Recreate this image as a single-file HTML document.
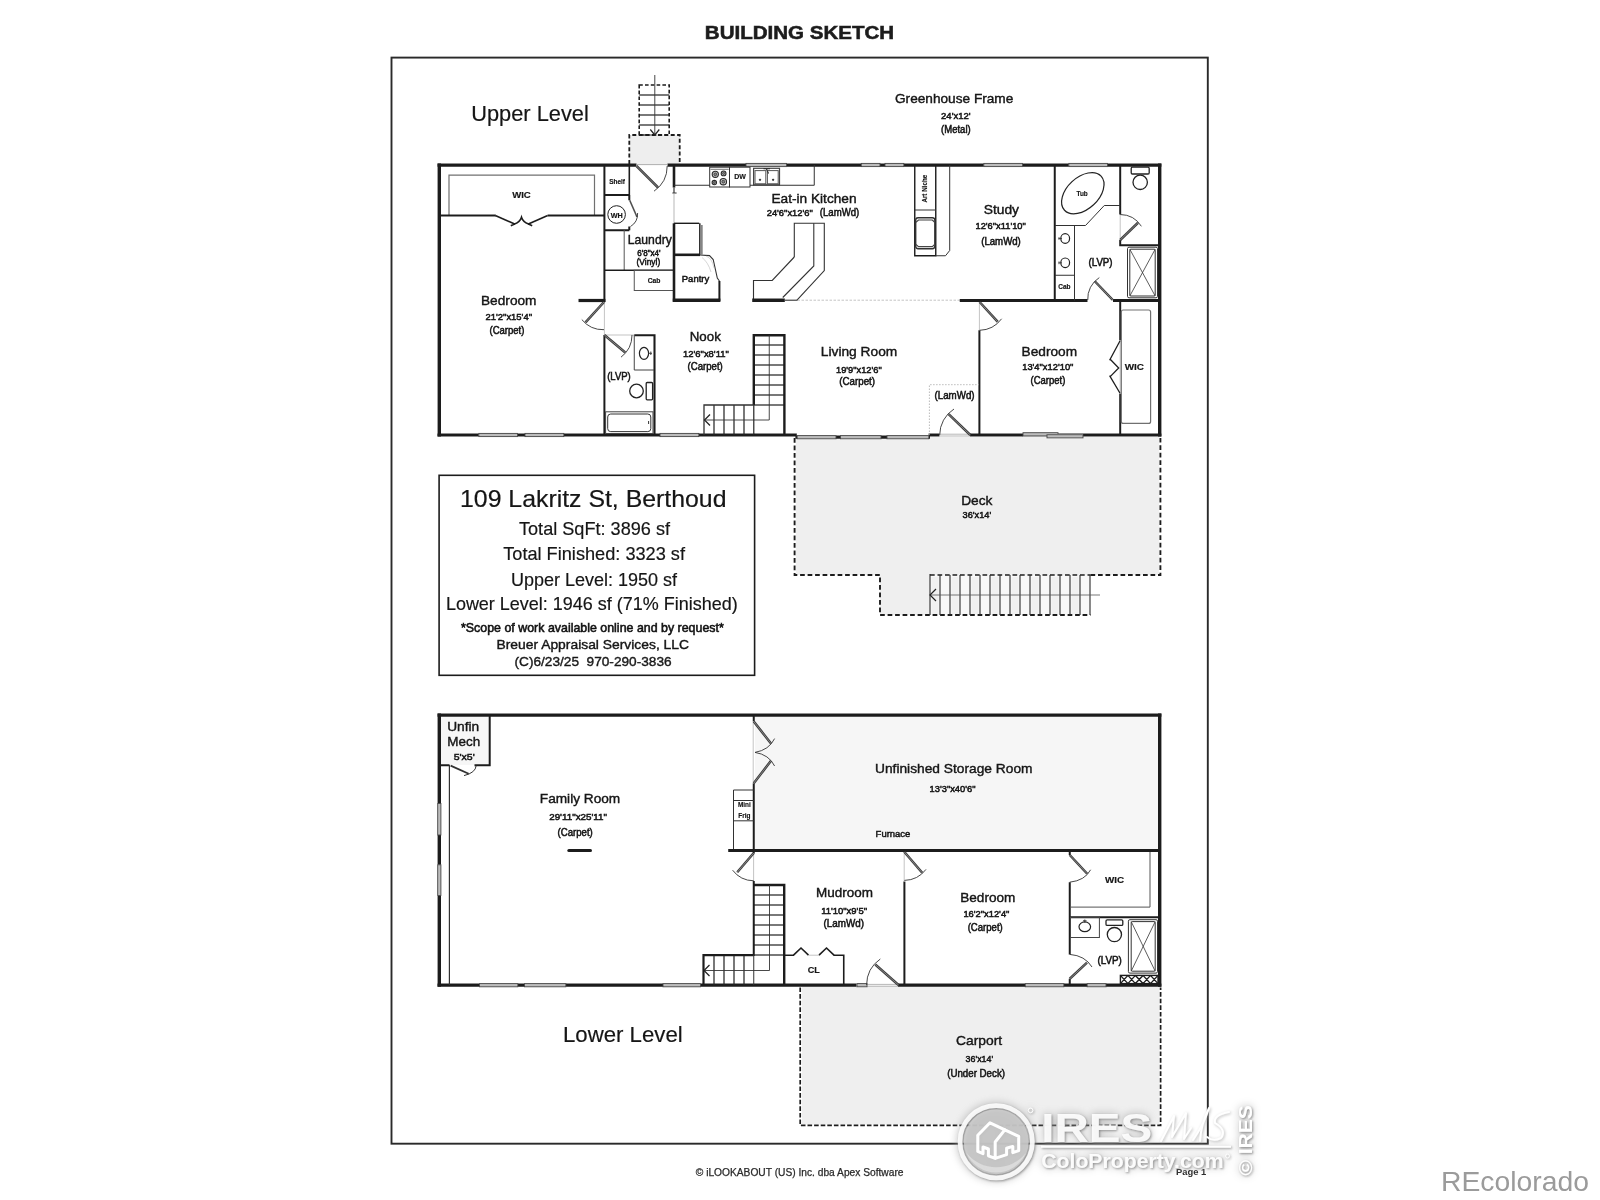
<!DOCTYPE html>
<html><head><meta charset="utf-8"><title>Building Sketch</title>
<style>
html,body{margin:0;padding:0;background:#fff;}
body{width:1600px;height:1200px;overflow:hidden;font-family:"Liberation Sans",sans-serif;}
svg{display:block;}
svg text{font-family:"Liberation Sans",sans-serif;}
</style></head><body>
<svg width="1600" height="1200" viewBox="0 0 1600 1200">
<defs>
<filter id="soft" x="-2%" y="-2%" width="104%" height="104%"><feGaussianBlur stdDeviation="0.45"/></filter>
<filter id="wmsh" x="-10%" y="-25%" width="120%" height="150%">
  <feGaussianBlur in="SourceAlpha" stdDeviation="4.5" result="b1"/>
  <feComponentTransfer in="b1" result="h1"><feFuncA type="linear" slope="0.95"/></feComponentTransfer>
  <feFlood flood-color="#a0a0a0" result="f1"/><feComposite in="f1" in2="h1" operator="in" result="halo"/>
  <feGaussianBlur in="SourceAlpha" stdDeviation="1.1" result="b2"/>
  <feOffset in="b2" dx="0.7" dy="0.9" result="o2"/>
  <feComponentTransfer in="o2" result="h2"><feFuncA type="linear" slope="0.75"/></feComponentTransfer>
  <feFlood flood-color="#6e6e6e" result="f2"/><feComposite in="f2" in2="h2" operator="in" result="sh"/>
  <feMerge><feMergeNode in="halo"/><feMergeNode in="sh"/><feMergeNode in="SourceGraphic"/></feMerge>
</filter>
<filter id="wmsh2" x="-10%" y="-25%" width="120%" height="150%">
  <feGaussianBlur in="SourceAlpha" stdDeviation="1.4" result="b2"/>
  <feOffset in="b2" dx="0.5" dy="0.6" result="o2"/>
  <feComponentTransfer in="o2" result="h2"><feFuncA type="linear" slope="0.7"/></feComponentTransfer>
  <feFlood flood-color="#9a9a9a" result="f2"/><feComposite in="f2" in2="h2" operator="in" result="sh"/>
  <feMerge><feMergeNode in="sh"/><feMergeNode in="SourceGraphic"/></feMerge>
</filter>
</defs>
<rect width="1600" height="1200" fill="#fff"/>
<g filter="url(#soft)">
<rect x="391.5" y="57.6" width="816.3" height="1086.1" rx="0" stroke="#2a2a2a" stroke-width="1.9" fill="none" />
<text x="704.8" y="39" font-size="17.7" font-weight="700" fill="#1c1c1c" stroke="#1c1c1c" stroke-width="0.5" textLength="189.4" lengthAdjust="spacingAndGlyphs" >BUILDING SKETCH</text>
<path d="M796,437 H1159 V575 H930 V615 H880 V575 H796 Z" fill="#efefef" stroke="none"/>
<rect x="930" y="575" width="160.5" height="40" fill="#f8f8f8"/>
<rect x="931.5" y="577" width="7" height="37" fill="#f1f1f1"/>
<rect x="951.5" y="577" width="7" height="37" fill="#f1f1f1"/>
<rect x="971.5" y="577" width="7" height="37" fill="#f1f1f1"/>
<rect x="991.5" y="577" width="7" height="37" fill="#f1f1f1"/>
<rect x="1011.5" y="577" width="7" height="37" fill="#f1f1f1"/>
<rect x="1031.5" y="577" width="7" height="37" fill="#f1f1f1"/>
<rect x="1051.5" y="577" width="7" height="37" fill="#f1f1f1"/>
<rect x="1071.5" y="577" width="7" height="37" fill="#f1f1f1"/>
<rect x="629.3" y="135" width="50.4" height="29" fill="#eeeeee"/>
<path d="M629.3,164 V135 H679.7 V164" stroke="#1e1e1e" stroke-width="1.8" fill="none" stroke-dasharray="4 2.4"/>
<rect x="639.2" y="85" width="30.0" height="50" rx="0" stroke="#1e1e1e" stroke-width="1.6" fill="none" stroke-dasharray="3.6 2.2"/>
<line x1="639.2" y1="95" x2="669.2" y2="95" stroke="#222" stroke-width="1.2" />
<line x1="639.2" y1="105" x2="669.2" y2="105" stroke="#222" stroke-width="1.2" />
<line x1="639.2" y1="115" x2="669.2" y2="115" stroke="#222" stroke-width="1.2" />
<line x1="639.2" y1="125" x2="669.2" y2="125" stroke="#222" stroke-width="1.2" />
<line x1="654.8" y1="75" x2="654.8" y2="135" stroke="#333" stroke-width="0.9" />
<path d="M650.3,129.5 L654.8,135 L659.3,129.5" stroke="#222" stroke-width="1.2" fill="none" />
<path d="M437.5,165.1 H636.5 M667.5,165.1 H1161.4" stroke="#1e1e1e" stroke-width="3.1" fill="none" />
<path d="M1159.7,163.6 V436.6" stroke="#1e1e1e" stroke-width="3.4" fill="none" />
<path d="M439.3,163.6 V436.6" stroke="#1e1e1e" stroke-width="3.4" fill="none" />
<path d="M437.5,435 H796.8 M928.6,435 H939.5 M970,435 H1161.4" stroke="#1e1e1e" stroke-width="3.2" fill="none" />
<path d="M795.4,437.2 H930" stroke="#1e1e1e" stroke-width="3.2" fill="none" />
<line x1="636.5" y1="164.6" x2="667.5" y2="164.6" stroke="#999" stroke-width="0.8" />
<line x1="939.5" y1="434.2" x2="970" y2="434.2" stroke="#999" stroke-width="0.7" />
<line x1="939.5" y1="436" x2="970" y2="436" stroke="#999" stroke-width="0.7" />
<rect x="746" y="162.7" width="40.5" height="4.6" fill="#fff"/>
<rect x="746" y="163.4" width="40.5" height="3.2" fill="#bcbcbc" stroke="#454545" stroke-width="0.9"/>
<rect x="861.3" y="162.7" width="18.7" height="4.6" fill="#fff"/>
<rect x="861.3" y="163.4" width="18.7" height="3.2" fill="#bcbcbc" stroke="#454545" stroke-width="0.9"/>
<rect x="885" y="162.7" width="18.8" height="4.6" fill="#fff"/>
<rect x="885" y="163.4" width="18.8" height="3.2" fill="#bcbcbc" stroke="#454545" stroke-width="0.9"/>
<rect x="983.8" y="162.7" width="38.7" height="4.6" fill="#fff"/>
<rect x="983.8" y="163.4" width="38.7" height="3.2" fill="#bcbcbc" stroke="#454545" stroke-width="0.9"/>
<rect x="1068.8" y="162.7" width="38.7" height="4.6" fill="#fff"/>
<rect x="1068.8" y="163.4" width="38.7" height="3.2" fill="#bcbcbc" stroke="#454545" stroke-width="0.9"/>
<rect x="478.8" y="432.7" width="38.7" height="4.6" fill="#fff"/>
<rect x="478.8" y="433.4" width="38.7" height="3.2" fill="#bcbcbc" stroke="#454545" stroke-width="0.9"/>
<rect x="525" y="432.7" width="38.8" height="4.6" fill="#fff"/>
<rect x="525" y="433.4" width="38.8" height="3.2" fill="#bcbcbc" stroke="#454545" stroke-width="0.9"/>
<rect x="660" y="432.7" width="38.8" height="4.6" fill="#fff"/>
<rect x="660" y="433.4" width="38.8" height="3.2" fill="#bcbcbc" stroke="#454545" stroke-width="0.9"/>
<rect x="797.2" y="434.9" width="38.8" height="4.6" fill="#fff"/>
<rect x="797.2" y="435.59999999999997" width="38.8" height="3.2" fill="#bcbcbc" stroke="#454545" stroke-width="0.9"/>
<rect x="840.5" y="434.9" width="40.5" height="4.6" fill="#fff"/>
<rect x="840.5" y="435.59999999999997" width="40.5" height="3.2" fill="#bcbcbc" stroke="#454545" stroke-width="0.9"/>
<rect x="887" y="434.9" width="41.8" height="4.6" fill="#fff"/>
<rect x="887" y="435.59999999999997" width="41.8" height="3.2" fill="#bcbcbc" stroke="#454545" stroke-width="0.9"/>
<rect x="1023" y="432.0" width="35" height="4.6" fill="#fff"/>
<rect x="1023" y="432.7" width="35" height="3.2" fill="#bcbcbc" stroke="#454545" stroke-width="0.9"/>
<rect x="1047" y="434.0" width="36" height="4.6" fill="#fff"/>
<rect x="1047" y="434.7" width="36" height="3.2" fill="#bcbcbc" stroke="#454545" stroke-width="0.9"/>
<path d="M449,215 V175.2 H594.5 V215" stroke="#707070" stroke-width="1.2" fill="none" />
<path d="M439,215.5 H495.7 M547.75,215.5 H604.4" stroke="#1e1e1e" stroke-width="2" fill="none" />
<path d="M495.3,215.4 L515.2,224.3 M510.8,225.7 L514.6,224 Q520,222 521.5,217.2 Q523,222 528.5,224 L532.2,225.7 M527.8,224.3 L547.7,215.4" stroke="#1e1e1e" stroke-width="1.6" fill="none" />
<path d="M604.4,165 V302" stroke="#1e1e1e" stroke-width="2" fill="none" />
<path d="M604.4,335 V435" stroke="#1e1e1e" stroke-width="2" fill="none" />
<line x1="604.4" y1="302" x2="604.4" y2="335" stroke="#aaa" stroke-width="0.7" />
<line x1="629.3" y1="165" x2="629.3" y2="195" stroke="#1e1e1e" stroke-width="1.6" />
<path d="M604.4,195 H629.3 M604.4,230.2 H629.3" stroke="#1e1e1e" stroke-width="2" fill="none" />
<path d="M629.3,195 V200.3 M629.3,226.5 V230.2" stroke="#1e1e1e" stroke-width="2" fill="none" />
<path d="M629.7,200.3 L637,217" stroke="#505050" stroke-width="1.6" fill="none" />
<path d="M637.6,213 Q638,222 630.5,226.5" stroke="#333" stroke-width="0.9" fill="none" />
<circle cx="616.6" cy="214.5" r="8.8" stroke="#1e1e1e" stroke-width="1" fill="none"/>
<line x1="624.2" y1="230" x2="624.2" y2="270.3" stroke="#555" stroke-width="1" />
<line x1="604.4" y1="270.3" x2="674" y2="270.3" stroke="#1e1e1e" stroke-width="1.6" />
<rect x="634.25" y="270.3" width="39.75" height="20.2" rx="0" stroke="#555" stroke-width="1" fill="none" />
<line x1="578.5" y1="300.5" x2="605.4" y2="300.5" stroke="#1e1e1e" stroke-width="3.2" />
<path d="M604,302 L585.5,322.3" stroke="#3c3c3c" stroke-width="2.5" fill="none" />
<path d="M604,302 L585.5,322.3" stroke="#8c8c8c" stroke-width="0.9" fill="none" />
<path d="M581.8,319.6 A27.7,27.7 0 0 0 604,329.7" stroke="#333" stroke-width="0.9" fill="none" />
<path d="M636.5,166 L658,187.5" stroke="#3c3c3c" stroke-width="2.5" fill="none" />
<path d="M636.5,166 L658,187.5" stroke="#8c8c8c" stroke-width="0.9" fill="none" />
<path d="M667.2,166 A30.5,30.5 0 0 1 654,191.2" stroke="#333" stroke-width="0.9" fill="none" />
<path d="M674,165 V187.5 M674,223.3 V301.8" stroke="#1e1e1e" stroke-width="2.6" fill="none" />
<line x1="674" y1="187.5" x2="674" y2="193" stroke="#333" stroke-width="1.2" />
<path d="M672.4,193 H676.6" stroke="#333" stroke-width="1" fill="none" />
<line x1="674" y1="193" x2="674" y2="223.3" stroke="#999" stroke-width="0.7" />
<line x1="674" y1="223.3" x2="699.2" y2="223.3" stroke="#1e1e1e" stroke-width="1.4" />
<line x1="699.8" y1="223.3" x2="699.8" y2="254.8" stroke="#333" stroke-width="1.6" />
<line x1="701.8" y1="225" x2="701.8" y2="254.5" stroke="#858585" stroke-width="1.8" />
<line x1="674" y1="254.8" x2="700" y2="254.8" stroke="#1e1e1e" stroke-width="2.6" />
<path d="M672.8,300.2 H720.4" stroke="#1e1e1e" stroke-width="3.4" fill="none" />
<path d="M719.4,281 V301" stroke="#1e1e1e" stroke-width="2" fill="none" />
<path d="M700,255 L709.5,255.6 L713.2,259.5 L717.3,278 L719.4,281" stroke="#333" stroke-width="1.1" fill="none" />
<path d="M702,257.5 Q708,262 711,272 M706,256 Q712,258 714,268" stroke="#bbb" stroke-width="0.6" fill="none" />
<path d="M674,185.25 H814.25 V165" stroke="#333" stroke-width="1" fill="none" />
<rect x="709.7" y="167.2" width="19.8" height="19.8" rx="0" stroke="#333" stroke-width="1" fill="#fff" />
<circle cx="715.3" cy="174.3" r="3.1" stroke="#2a2a2a" stroke-width="1.1" fill="#c8c8c8"/>
<circle cx="715.3" cy="174.3" r="1.395" stroke="#333" stroke-width="0.8" fill="#888"/>
<circle cx="723.6" cy="173.4" r="2.4" stroke="#2a2a2a" stroke-width="1.1" fill="#c8c8c8"/>
<circle cx="723.6" cy="173.4" r="1.08" stroke="#333" stroke-width="0.8" fill="#888"/>
<circle cx="714.3" cy="182.6" r="2.2" stroke="#2a2a2a" stroke-width="1.1" fill="#c8c8c8"/>
<circle cx="714.3" cy="182.6" r="0.9900000000000001" stroke="#333" stroke-width="0.8" fill="#888"/>
<circle cx="723.3" cy="181.7" r="3.2" stroke="#2a2a2a" stroke-width="1.1" fill="#c8c8c8"/>
<circle cx="723.3" cy="181.7" r="1.4400000000000002" stroke="#333" stroke-width="0.8" fill="#888"/>
<line x1="710.5" y1="169.3" x2="728.7" y2="169.3" stroke="#555" stroke-width="0.8" />
<rect x="729.5" y="167.2" width="20.5" height="19.8" rx="0" stroke="#333" stroke-width="1" fill="#fff" />
<rect x="753.6" y="168.3" width="25.9" height="16.9" rx="0" stroke="#444" stroke-width="1.2" fill="#fff" />
<rect x="755" y="170.6" width="10.8" height="13.2" rx="0" stroke="#555" stroke-width="1" fill="none" />
<rect x="767.4" y="170.6" width="10.8" height="13.2" rx="0" stroke="#555" stroke-width="1" fill="none" />
<line x1="754" y1="184.6" x2="779" y2="184.6" stroke="#555" stroke-width="1.4" />
<circle cx="760" cy="179.8" r="0.7" stroke="#222" stroke-width="0.9" fill="#222"/>
<circle cx="773.1" cy="179.8" r="0.7" stroke="#222" stroke-width="0.9" fill="#222"/>
<path d="M763.5,168.6 H770 M766.2,168.6 L768.6,173.5" stroke="#333" stroke-width="1.1" fill="none" />
<path d="M794.3,257 V223.3 H824.3 V270.5 L797,300.2" stroke="#333" stroke-width="1.1" fill="none" />
<path d="M794.3,257 L772.25,280.5 H753.5 V300" stroke="#333" stroke-width="1.1" fill="none" />
<path d="M813.8,223.3 V266 L782.75,297.5" stroke="#333" stroke-width="1.1" fill="none" />
<line x1="752.2" y1="300.2" x2="784.8" y2="300.2" stroke="#1e1e1e" stroke-width="3.4" />
<line x1="784.8" y1="300.2" x2="797.5" y2="300.2" stroke="#333" stroke-width="1.1" />
<line x1="797.5" y1="300.2" x2="960" y2="300.2" stroke="#aaa" stroke-width="0.7" stroke-dasharray="2.5 1.5"/>
<path d="M914.75,165 V255.75 H935.75 V165" stroke="#1e1e1e" stroke-width="1.4" fill="none" />
<line x1="914.75" y1="210" x2="935.75" y2="210" stroke="#333" stroke-width="1" />
<path d="M949.7,165 V250.5 L945.5,255.75 H935.75" stroke="#333" stroke-width="1" fill="none" />
<rect x="915.7" y="217.7" width="19.1" height="31.0" rx="2.4" stroke="#333" stroke-width="1.4" fill="none" />
<path d="M915.9,222.2 L918.5,220 H932.3 L934.7,222.2 M915.9,244.4 L918.5,246.6 H932.3 L934.7,244.4" stroke="#444" stroke-width="1.2" fill="none" />
<path d="M959.75,300.4 H1087.5 M1113,300.4 H1161" stroke="#1e1e1e" stroke-width="3" fill="none" />
<line x1="1054.75" y1="165" x2="1054.75" y2="300.4" stroke="#1e1e1e" stroke-width="2" />
<path d="M979.4,299 V302 M979.4,330.3 V435" stroke="#1e1e1e" stroke-width="2" fill="none" />
<line x1="979.4" y1="302" x2="979.4" y2="330.3" stroke="#aaa" stroke-width="0.7" />
<path d="M979.6,302 L997.8,321.9" stroke="#3c3c3c" stroke-width="2.5" fill="none" />
<path d="M979.6,302 L997.8,321.9" stroke="#8c8c8c" stroke-width="0.9" fill="none" />
<path d="M1001.6,318.8 A28.3,28.3 0 0 1 979.6,330.3" stroke="#333" stroke-width="0.9" fill="none" />
<path d="M1120.2,165 V214.5 M1120.2,240 V245.25 H1160" stroke="#1e1e1e" stroke-width="2" fill="none" />
<line x1="1120.2" y1="214.5" x2="1120.2" y2="240" stroke="#aaa" stroke-width="0.7" />
<path d="M1120.2,240 L1138,222.75" stroke="#3c3c3c" stroke-width="2.5" fill="none" />
<path d="M1120.2,240 L1138,222.75" stroke="#8c8c8c" stroke-width="0.9" fill="none" />
<path d="M1120.2,214.5 A25.5,25.5 0 0 1 1141.4,226.3" stroke="#333" stroke-width="0.9" fill="none" />
<rect x="1131.2" y="167.2" width="18.0" height="6.8" rx="1.2" stroke="#222" stroke-width="1.3" fill="#fff" />
<circle cx="1140.2" cy="182.3" r="7.2" stroke="#222" stroke-width="1.3" fill="#fff"/>
<rect x="1127.5" y="247.2" width="30.0" height="50.6" rx="1.5" stroke="#333" stroke-width="1" fill="#fff" />
<rect x="1129.8" y="249.2" width="25.4" height="46.8" rx="1" stroke="#333" stroke-width="1" fill="none" />
<path d="M1129.8,249.2 L1155.2,296 M1155.2,249.2 L1129.8,296" stroke="#333" stroke-width="0.8" fill="none" />
<ellipse cx="1082.8" cy="193.2" rx="25" ry="15.8" stroke="#222" stroke-width="1.2" fill="none" transform="rotate(-43 1082.8 193.2)"/>
<path d="M1055,225.5 H1085.5 L1104.25,205.5 H1120.2" stroke="#333" stroke-width="1" fill="none" />
<line x1="1074.5" y1="225.5" x2="1074.5" y2="300.4" stroke="#333" stroke-width="1" />
<line x1="1055" y1="275.25" x2="1074.5" y2="275.25" stroke="#333" stroke-width="1" />
<ellipse cx="1065.2" cy="238.5" rx="4.4" ry="4.8" stroke="#222" stroke-width="1.2" fill="none" />
<path d="M1058.5,238.5 H1062 M1059,237.1 V239.9" stroke="#333" stroke-width="0.8" fill="none" />
<ellipse cx="1065.2" cy="262.8" rx="4.4" ry="4.8" stroke="#222" stroke-width="1.2" fill="none" />
<path d="M1058.5,262.8 H1062 M1059,261.40000000000003 V264.2" stroke="#333" stroke-width="0.8" fill="none" />
<path d="M1112.8,300 L1094.8,281.25" stroke="#3c3c3c" stroke-width="2.5" fill="none" />
<path d="M1112.8,300 L1094.8,281.25" stroke="#8c8c8c" stroke-width="0.9" fill="none" />
<path d="M1087.75,300 A25,25 0 0 1 1099.3,277.6" stroke="#333" stroke-width="0.9" fill="none" />
<path d="M1120.2,300.4 V340 M1120.2,394 V435" stroke="#1e1e1e" stroke-width="2" fill="none" />
<line x1="1120.2" y1="340" x2="1120.2" y2="394" stroke="#aaa" stroke-width="0.7" />
<path d="M1120.2,340.5 L1109.6,360.2 M1110.2,359.2 L1118.7,368 L1110.2,376.6 M1109.6,375.6 L1120.2,393.5" stroke="#1e1e1e" stroke-width="1.3" fill="none" />
<rect x="1121.3" y="310" width="29.3" height="113.4" rx="2" stroke="#707070" stroke-width="1.2" fill="none" />
<path d="M929.4,435 V384.7 H979" stroke="#aaa" stroke-width="0.8" fill="none" stroke-dasharray="1.5 1.5"/>
<path d="M970.3,435 L948.6,414.2" stroke="#3c3c3c" stroke-width="2.5" fill="none" />
<path d="M970.3,435 L948.6,414.2" stroke="#8c8c8c" stroke-width="0.9" fill="none" />
<path d="M939.7,435 A30.7,30.7 0 0 1 954,409" stroke="#333" stroke-width="0.9" fill="none" />
<line x1="753.8" y1="345" x2="784.4" y2="345" stroke="#222" stroke-width="1.2" />
<line x1="753.8" y1="355" x2="784.4" y2="355" stroke="#222" stroke-width="1.2" />
<line x1="753.8" y1="365" x2="784.4" y2="365" stroke="#222" stroke-width="1.2" />
<line x1="753.8" y1="375" x2="784.4" y2="375" stroke="#222" stroke-width="1.2" />
<line x1="753.8" y1="385" x2="784.4" y2="385" stroke="#222" stroke-width="1.2" />
<line x1="753.8" y1="395" x2="784.4" y2="395" stroke="#222" stroke-width="1.2" />
<line x1="753.8" y1="405" x2="784.4" y2="405" stroke="#222" stroke-width="1.2" />
<line x1="714" y1="405" x2="714" y2="435" stroke="#222" stroke-width="1.2" />
<line x1="724" y1="405" x2="724" y2="435" stroke="#222" stroke-width="1.2" />
<line x1="734" y1="405" x2="734" y2="435" stroke="#222" stroke-width="1.2" />
<line x1="744" y1="405" x2="744" y2="435" stroke="#222" stroke-width="1.2" />
<path d="M753.8,405 V335.2 H784.4" stroke="#1e1e1e" stroke-width="2.4" fill="none" />
<line x1="753.8" y1="405" x2="753.8" y2="435" stroke="#222" stroke-width="1.2" />
<line x1="784.4" y1="334" x2="784.4" y2="435" stroke="#1e1e1e" stroke-width="2.4" />
<path d="M753.8,405 H704 V435" stroke="#333" stroke-width="1.3" fill="none" />
<path d="M769.25,335.2 V420 H704.5" stroke="#333" stroke-width="0.9" fill="none" />
<path d="M710,414.5 L704.5,420 L710,425.5" stroke="#222" stroke-width="1.2" fill="none" />
<path d="M634.25,335.2 H654.5 V435" stroke="#1e1e1e" stroke-width="2.1" fill="none" />
<line x1="604.4" y1="335" x2="634.25" y2="335" stroke="#aaa" stroke-width="0.7" />
<path d="M634.25,335 V370 H654" stroke="#444" stroke-width="1" fill="none" />
<ellipse cx="644" cy="353.3" rx="4.6" ry="6" stroke="#222" stroke-width="1.2" fill="none" />
<path d="M648.6,353.3 H652 M650.8,351.5 V355" stroke="#333" stroke-width="0.9" fill="none" />
<circle cx="636.5" cy="391" r="6.8" stroke="#222" stroke-width="1.3" fill="#fff"/>
<rect x="646.2" y="382.5" width="6.4" height="17.3" rx="1" stroke="#222" stroke-width="1.3" fill="#fff" />
<rect x="605.6" y="411.8" width="47.4" height="21.7" rx="0" stroke="#444" stroke-width="1" fill="none" />
<rect x="607.7" y="414" width="43.1" height="17.6" rx="3" stroke="#333" stroke-width="1" fill="none" />
<path d="M648.6,421 V424" stroke="#333" stroke-width="1" fill="none" />
<path d="M604.4,335 L625.25,352.5" stroke="#3c3c3c" stroke-width="2.5" fill="none" />
<path d="M604.4,335 L625.25,352.5" stroke="#8c8c8c" stroke-width="0.9" fill="none" />
<path d="M632,335 A27.8,27.8 0 0 1 621,357.2" stroke="#333" stroke-width="0.9" fill="none" />
<path d="M794.6,438 V575 H880 V615 H1090.5" stroke="#1e1e1e" stroke-width="1.9" fill="none" stroke-dasharray="4.7 2.8"/>
<path d="M1090.5,575 H1160.4 V438" stroke="#1e1e1e" stroke-width="1.9" fill="none" stroke-dasharray="4.7 2.8"/>
<line x1="930" y1="575" x2="1090.5" y2="575" stroke="#1e1e1e" stroke-width="1.7" stroke-dasharray="4.7 2.8"/>
<line x1="930" y1="574" x2="930" y2="615" stroke="#2a2a2a" stroke-width="1.1" />
<line x1="940" y1="575" x2="940" y2="615" stroke="#2a2a2a" stroke-width="1.1" />
<line x1="950" y1="575" x2="950" y2="615" stroke="#2a2a2a" stroke-width="1.1" />
<line x1="960" y1="575" x2="960" y2="615" stroke="#2a2a2a" stroke-width="1.1" />
<line x1="970" y1="575" x2="970" y2="615" stroke="#2a2a2a" stroke-width="1.1" />
<line x1="980" y1="575" x2="980" y2="615" stroke="#2a2a2a" stroke-width="1.1" />
<line x1="990" y1="575" x2="990" y2="615" stroke="#2a2a2a" stroke-width="1.1" />
<line x1="1000" y1="575" x2="1000" y2="615" stroke="#2a2a2a" stroke-width="1.1" />
<line x1="1010" y1="575" x2="1010" y2="615" stroke="#2a2a2a" stroke-width="1.1" />
<line x1="1020" y1="575" x2="1020" y2="615" stroke="#2a2a2a" stroke-width="1.1" />
<line x1="1030" y1="575" x2="1030" y2="615" stroke="#2a2a2a" stroke-width="1.1" />
<line x1="1040" y1="575" x2="1040" y2="615" stroke="#2a2a2a" stroke-width="1.1" />
<line x1="1050" y1="575" x2="1050" y2="615" stroke="#2a2a2a" stroke-width="1.1" />
<line x1="1060" y1="575" x2="1060" y2="615" stroke="#2a2a2a" stroke-width="1.1" />
<line x1="1070" y1="575" x2="1070" y2="615" stroke="#2a2a2a" stroke-width="1.1" />
<line x1="1080" y1="575" x2="1080" y2="615" stroke="#2a2a2a" stroke-width="1.1" />
<line x1="1090" y1="575" x2="1090" y2="615" stroke="#2a2a2a" stroke-width="1.1" />
<line x1="930" y1="595" x2="1100" y2="595" stroke="#555" stroke-width="0.8" />
<path d="M936,589 L930,595 L936,601" stroke="#222" stroke-width="1.2" fill="none" />
<rect x="439.1" y="475.3" width="315.5" height="200.0" rx="0" stroke="#1e1e1e" stroke-width="1.6" fill="#fff" />
<text x="460" y="507.2" font-size="23.6" fill="#141414" stroke="#141414" stroke-width="0.18" textLength="266.5" lengthAdjust="spacingAndGlyphs" >109 Lakritz St, Berthoud</text>
<text x="519" y="535.4" font-size="18.6" fill="#141414" stroke="#141414" stroke-width="0.18" textLength="151" lengthAdjust="spacingAndGlyphs" >Total SqFt: 3896 sf</text>
<text x="503.2" y="560.1" font-size="18.6" fill="#141414" stroke="#141414" stroke-width="0.18" textLength="181.8" lengthAdjust="spacingAndGlyphs" >Total Finished: 3323 sf</text>
<text x="511" y="585.5" font-size="18.6" fill="#141414" stroke="#141414" stroke-width="0.18" textLength="166" lengthAdjust="spacingAndGlyphs" >Upper Level: 1950 sf</text>
<text x="445.9" y="610.3" font-size="18.6" fill="#141414" stroke="#141414" stroke-width="0.18" textLength="291.8" lengthAdjust="spacingAndGlyphs" >Lower Level: 1946 sf (71% Finished)</text>
<text x="461" y="631.5" font-size="12.6" fill="#111" textLength="262.8" lengthAdjust="spacingAndGlyphs" stroke="#111" stroke-width="0.55">*Scope of work available online and by request*</text>
<text x="496.5" y="649" font-size="13.6" fill="#141414" stroke="#141414" stroke-width="0.4" textLength="192.5" lengthAdjust="spacingAndGlyphs" >Breuer Appraisal Services, LLC</text>
<text x="514.5" y="666.3" font-size="13.6" fill="#1a1a1a" stroke="#1a1a1a" stroke-width="0.4" textLength="157.1" lengthAdjust="spacingAndGlyphs" xml:space="preserve">(C)6/23/25  970-290-3836</text>
<rect x="755" y="716.5" width="403.5" height="133" fill="#f6f6f6"/>
<rect x="441" y="716.5" width="48" height="48.5" fill="#f6f6f6"/>
<rect x="802" y="986" width="357.5" height="138.5" fill="#efefef"/>
<path d="M437.5,715.1 H1161.4" stroke="#1e1e1e" stroke-width="3.1" fill="none" />
<path d="M1159.7,713.6 V986.8 M439.3,713.6 V986.8" stroke="#1e1e1e" stroke-width="3.4" fill="none" />
<path d="M437.5,985.2 H856.5 M898,985.2 H1161.4" stroke="#1e1e1e" stroke-width="3.2" fill="none" />
<line x1="856.5" y1="984.4" x2="898" y2="984.4" stroke="#999" stroke-width="0.7" />
<line x1="856.5" y1="986.2" x2="898" y2="986.2" stroke="#999" stroke-width="0.7" />
<rect x="479.5" y="982.9000000000001" width="38.3" height="4.6" fill="#fff"/>
<rect x="479.5" y="983.6" width="38.3" height="3.2" fill="#bcbcbc" stroke="#454545" stroke-width="0.9"/>
<rect x="524.5" y="982.9000000000001" width="41.3" height="4.6" fill="#fff"/>
<rect x="524.5" y="983.6" width="41.3" height="3.2" fill="#bcbcbc" stroke="#454545" stroke-width="0.9"/>
<rect x="663" y="982.9000000000001" width="37.5" height="4.6" fill="#fff"/>
<rect x="663" y="983.6" width="37.5" height="3.2" fill="#bcbcbc" stroke="#454545" stroke-width="0.9"/>
<rect x="1025.3" y="982.9000000000001" width="38.5" height="4.6" fill="#fff"/>
<rect x="1025.3" y="983.6" width="38.5" height="3.2" fill="#bcbcbc" stroke="#454545" stroke-width="0.9"/>
<rect x="1087.2" y="982.9000000000001" width="18.8" height="4.6" fill="#fff"/>
<rect x="1087.2" y="983.6" width="18.8" height="3.2" fill="#bcbcbc" stroke="#454545" stroke-width="0.9"/>
<rect x="857" y="982.9000000000001" width="10" height="4.6" fill="#fff"/>
<rect x="857" y="983.6" width="10" height="3.2" fill="#bcbcbc" stroke="#454545" stroke-width="0.9"/>
<rect x="437.0" y="803.5" width="4.6" height="31.5" fill="#fff"/>
<rect x="437.7" y="803.5" width="3.2" height="31.5" fill="#bcbcbc" stroke="#454545" stroke-width="0.9"/>
<rect x="437.0" y="864.8" width="4.6" height="30.7" fill="#fff"/>
<rect x="437.7" y="864.8" width="3.2" height="30.7" fill="#bcbcbc" stroke="#454545" stroke-width="0.9"/>
<path d="M489.7,715 V766.2 M439,765.3 H449.5 M474.5,765.3 H490.7" stroke="#1e1e1e" stroke-width="2" fill="none" />
<path d="M450.6,765.6 L468.7,773.8" stroke="#333" stroke-width="1.8" fill="none" />
<path d="M476.2,765.6 Q475.6,772.8 464,775.6" stroke="#333" stroke-width="1" fill="none" />
<line x1="449.4" y1="765" x2="449.4" y2="985" stroke="#333" stroke-width="1.2" />
<path d="M753.75,715 V721.5 M753.75,783.2 V850.5 M753.75,850.5 V853.5 M753.75,881 V956" stroke="#1e1e1e" stroke-width="2" fill="none" />
<line x1="753.2" y1="721.5" x2="753.2" y2="783.2" stroke="#aaa" stroke-width="0.7" />
<line x1="753.6" y1="853.5" x2="753.6" y2="881" stroke="#aaa" stroke-width="0.7" />
<path d="M753.75,721.5 L771,743.5 M753.75,783.2 L771,760.8" stroke="#3c3c3c" stroke-width="2.5" fill="none" />
<path d="M753.75,721.5 L771,743.5 M753.75,783.2 L771,760.8" stroke="#8c8c8c" stroke-width="0.9" fill="none" />
<path d="M774.6,738.6 Q769,750 755,752.4 Q769,754.6 774.6,766" stroke="#333" stroke-width="0.9" fill="none" />
<path d="M753.75,790 H733.5 V850.5 M733.5,800.5 H753.75 M733.5,820.8 H753.75" stroke="#333" stroke-width="1" fill="none" />
<line x1="728.2" y1="850.5" x2="1161" y2="850.5" stroke="#1e1e1e" stroke-width="3.2" />
<path d="M753.75,853 L737.25,872.25" stroke="#3c3c3c" stroke-width="2.5" fill="none" />
<path d="M753.75,853 L737.25,872.25" stroke="#8c8c8c" stroke-width="0.9" fill="none" />
<path d="M732.6,870.2 A27,27 0 0 0 753.75,880.8" stroke="#333" stroke-width="0.9" fill="none" />
<line x1="753.75" y1="895" x2="784.2" y2="895" stroke="#222" stroke-width="1.2" />
<line x1="753.75" y1="905" x2="784.2" y2="905" stroke="#222" stroke-width="1.2" />
<line x1="753.75" y1="915" x2="784.2" y2="915" stroke="#222" stroke-width="1.2" />
<line x1="753.75" y1="925" x2="784.2" y2="925" stroke="#222" stroke-width="1.2" />
<line x1="753.75" y1="935" x2="784.2" y2="935" stroke="#222" stroke-width="1.2" />
<line x1="753.75" y1="945" x2="784.2" y2="945" stroke="#222" stroke-width="1.2" />
<line x1="753.75" y1="955" x2="784.2" y2="955" stroke="#222" stroke-width="1.2" />
<line x1="714" y1="955" x2="714" y2="985" stroke="#222" stroke-width="1.2" />
<line x1="724" y1="955" x2="724" y2="985" stroke="#222" stroke-width="1.2" />
<line x1="734" y1="955" x2="734" y2="985" stroke="#222" stroke-width="1.2" />
<line x1="744" y1="955" x2="744" y2="985" stroke="#222" stroke-width="1.2" />
<path d="M753.75,885 H784.2 V985" stroke="#1e1e1e" stroke-width="2.4" fill="none" />
<path d="M753.75,955.2 H703.5 V985" stroke="#1e1e1e" stroke-width="2.2" fill="none" />
<line x1="753.75" y1="955" x2="753.75" y2="985" stroke="#333" stroke-width="1" />
<path d="M769.5,885 V970.5 H704" stroke="#333" stroke-width="0.9" fill="none" />
<path d="M709.5,965 L704,970.5 L709.5,976" stroke="#222" stroke-width="1.2" fill="none" />
<path d="M784.2,955.2 H793.5 L801,948 L808.5,955.2 M819,955.2 L826.5,948 L834,955.2 H843.75 V985" stroke="#1e1e1e" stroke-width="1.6" fill="none" />
<line x1="808.5" y1="955.2" x2="819" y2="955.2" stroke="#aaa" stroke-width="0.7" />
<path d="M904.4,850.5 V852.5 M904.4,881.6 V985" stroke="#1e1e1e" stroke-width="2" fill="none" />
<line x1="904.2" y1="852.5" x2="904.2" y2="881.6" stroke="#aaa" stroke-width="0.7" />
<path d="M904.4,852 L922.2,872.8" stroke="#3c3c3c" stroke-width="2.5" fill="none" />
<path d="M904.4,852 L922.2,872.8" stroke="#8c8c8c" stroke-width="0.9" fill="none" />
<path d="M926,869.4 A28,28 0 0 1 904.4,880.4" stroke="#333" stroke-width="0.9" fill="none" />
<path d="M1069.75,850.5 V855 M1069.75,882.2 V954.4 M1069.75,978.75 V985" stroke="#1e1e1e" stroke-width="2" fill="none" />
<path d="M1069.75,855 L1087.2,873.75" stroke="#3c3c3c" stroke-width="2.5" fill="none" />
<path d="M1069.75,855 L1087.2,873.75" stroke="#8c8c8c" stroke-width="0.9" fill="none" />
<path d="M1090.6,869.8 Q1085,880.5 1069.75,882.2" stroke="#333" stroke-width="0.9" fill="none" />
<path d="M1069.75,978.75 L1087,962.6" stroke="#3c3c3c" stroke-width="2.5" fill="none" />
<path d="M1069.75,978.75 L1087,962.6" stroke="#8c8c8c" stroke-width="0.9" fill="none" />
<path d="M1069.75,954.4 Q1085,955.6 1092,967" stroke="#333" stroke-width="0.9" fill="none" />
<path d="M1070,907.1 H1150 V852" stroke="#555" stroke-width="1" fill="none" />
<line x1="1069.75" y1="917.25" x2="1160" y2="917.25" stroke="#1e1e1e" stroke-width="2" />
<rect x="1070.5" y="917.25" width="28.9" height="20.25" rx="0" stroke="#444" stroke-width="1" fill="none" />
<ellipse cx="1084.8" cy="926.8" rx="5.8" ry="4.9" stroke="#222" stroke-width="1.2" fill="none" />
<path d="M1084.8,919.5 V922.8 M1083,920.8 H1086.6" stroke="#333" stroke-width="0.9" fill="none" />
<rect x="1106" y="919.8" width="16.8" height="5.6" rx="1.2" stroke="#222" stroke-width="1.3" fill="#fff" />
<circle cx="1114.4" cy="934.6" r="7.1" stroke="#222" stroke-width="1.3" fill="#fff"/>
<rect x="1128.4" y="919.7" width="29.1" height="53.4" rx="1.5" stroke="#333" stroke-width="1" fill="#fff" />
<rect x="1131.2" y="921.6" width="24.0" height="49.6" rx="1" stroke="#333" stroke-width="1" fill="none" />
<path d="M1131.2,921.6 L1155.2,971.2 M1155.2,921.6 L1131.2,971.2" stroke="#333" stroke-width="0.8" fill="none" />
<rect x="1120.4" y="975.4" width="37.6" height="8.2" rx="0" stroke="#1e1e1e" stroke-width="1.4" fill="#fff" />
<path d="M1120.4,975.4 L1127.9,983.6 M1127.9,975.4 L1120.4,983.6 M1127.9,975.4 L1135.4,983.6 M1135.4,975.4 L1127.9,983.6 M1135.4,975.4 L1143.0,983.6 M1143.0,975.4 L1135.4,983.6 M1143.0,975.4 L1150.5,983.6 M1150.5,975.4 L1143.0,983.6 M1150.5,975.4 L1158.0,983.6 M1158.0,975.4 L1150.5,983.6 " stroke="#1e1e1e" stroke-width="1.4" fill="none" />
<path d="M898.5,985 L875.25,964.5" stroke="#3c3c3c" stroke-width="2.5" fill="none" />
<path d="M898.5,985 L875.25,964.5" stroke="#8c8c8c" stroke-width="0.9" fill="none" />
<path d="M866.6,985 A31.8,31.8 0 0 1 880.3,959" stroke="#333" stroke-width="0.9" fill="none" />
<line x1="568.8" y1="850.5" x2="590.5" y2="850.5" stroke="#1e1e1e" stroke-width="3" stroke-linecap="round"/>
<path d="M800.2,987.5 V1125.4 H1160.6 V987.5" stroke="#1e1e1e" stroke-width="1.7" fill="none" stroke-dasharray="4.6 2"/>
<text x="471.2" y="121.3" font-size="22" fill="#141414" stroke="#141414" stroke-width="0.18" textLength="117.6" lengthAdjust="spacingAndGlyphs" >Upper Level</text>
<text x="563" y="1041.6" font-size="22" fill="#141414" stroke="#141414" stroke-width="0.18" textLength="119.7" lengthAdjust="spacingAndGlyphs" >Lower Level</text>
<text x="895" y="103.3" font-size="13.6" fill="#141414" stroke="#141414" stroke-width="0.4" textLength="118.3" lengthAdjust="spacingAndGlyphs" >Greenhouse Frame</text>
<text x="941" y="119.3" font-size="9.6" fill="#141414" stroke="#141414" stroke-width="0.5" textLength="29.7" lengthAdjust="spacingAndGlyphs" >24'x12'</text>
<text x="941" y="133.3" font-size="10" fill="#141414" stroke="#141414" stroke-width="0.5" textLength="29.7" lengthAdjust="spacingAndGlyphs" >(Metal)</text>
<text x="512.2" y="198" font-size="9.4" font-weight="700" fill="#141414" stroke="#141414" stroke-width="0.15" textLength="18.6" lengthAdjust="spacingAndGlyphs" >WIC</text>
<text x="609.2" y="184.2" font-size="6.6" font-weight="700" fill="#141414" stroke="#141414" stroke-width="0.15" textLength="15.8" lengthAdjust="spacingAndGlyphs" >Shelf</text>
<text x="610.7" y="217.6" font-size="7" font-weight="700" fill="#141414" stroke="#141414" stroke-width="0.15" textLength="12.1" lengthAdjust="spacingAndGlyphs" >WH</text>
<text x="627.8" y="243.6" font-size="12.4" fill="#141414" stroke="#141414" stroke-width="0.4" textLength="44.0" lengthAdjust="spacingAndGlyphs" >Laundry</text>
<text x="637.2" y="255.5" font-size="8.6" fill="#141414" stroke="#141414" stroke-width="0.5" textLength="23.3" lengthAdjust="spacingAndGlyphs" >6'8"x4'</text>
<text x="636.5" y="265.3" font-size="8.8" fill="#141414" stroke="#141414" stroke-width="0.5" textLength="23.7" lengthAdjust="spacingAndGlyphs" >(Vinyl)</text>
<text x="647.7" y="283.2" font-size="6.6" font-weight="700" fill="#141414" stroke="#141414" stroke-width="0.15" textLength="12.8" lengthAdjust="spacingAndGlyphs" >Cab</text>
<text x="681.8" y="282.2" font-size="9.8" fill="#141414" stroke="#141414" stroke-width="0.5" textLength="27.4" lengthAdjust="spacingAndGlyphs" >Pantry</text>
<text x="481" y="305.2" font-size="13.6" fill="#141414" stroke="#141414" stroke-width="0.4" textLength="55.5" lengthAdjust="spacingAndGlyphs" >Bedroom</text>
<text x="485.5" y="319.5" font-size="9.6" fill="#141414" stroke="#141414" stroke-width="0.5" textLength="46.5" lengthAdjust="spacingAndGlyphs" >21'2"x15'4"</text>
<text x="489.5" y="333.9" font-size="10" fill="#141414" stroke="#141414" stroke-width="0.5" textLength="34.9" lengthAdjust="spacingAndGlyphs" >(Carpet)</text>
<text x="771.4" y="202.7" font-size="13.6" fill="#141414" stroke="#141414" stroke-width="0.4" textLength="85.2" lengthAdjust="spacingAndGlyphs" >Eat-in Kitchen</text>
<text x="766.7" y="216.2" font-size="9.6" fill="#141414" stroke="#141414" stroke-width="0.5" textLength="46.1" lengthAdjust="spacingAndGlyphs" >24'6"x12'6"</text>
<text x="819.8" y="216.2" font-size="10" fill="#141414" stroke="#141414" stroke-width="0.5" textLength="39.5" lengthAdjust="spacingAndGlyphs" >(LamWd)</text>
<text x="734.3" y="179.3" font-size="7" font-weight="700" fill="#141414" stroke="#141414" stroke-width="0.15" textLength="11.7" lengthAdjust="spacingAndGlyphs" >DW</text>
<g transform="translate(927.4,202.6) rotate(-90)">
<text x="0" y="0" font-size="6.6" font-weight="700" fill="#141414" stroke="#141414" stroke-width="0.15" textLength="27.8" lengthAdjust="spacingAndGlyphs" >Art Niche</text>
</g>
<text x="983.7" y="213.8" font-size="13.6" fill="#141414" stroke="#141414" stroke-width="0.4" textLength="35.3" lengthAdjust="spacingAndGlyphs" >Study</text>
<text x="975.5" y="229.2" font-size="9.6" fill="#141414" stroke="#141414" stroke-width="0.5" textLength="50.3" lengthAdjust="spacingAndGlyphs" >12'6"x11'10"</text>
<text x="981.2" y="244.8" font-size="10" fill="#141414" stroke="#141414" stroke-width="0.5" textLength="39.6" lengthAdjust="spacingAndGlyphs" >(LamWd)</text>
<text x="1076.5" y="195.8" font-size="6.6" font-weight="700" fill="#141414" stroke="#141414" stroke-width="0.15" textLength="11.3" lengthAdjust="spacingAndGlyphs" >Tub</text>
<text x="1088.5" y="265.5" font-size="10" fill="#141414" stroke="#141414" stroke-width="0.5" textLength="24.0" lengthAdjust="spacingAndGlyphs" >(LVP)</text>
<text x="1058.2" y="289.2" font-size="6.6" font-weight="700" fill="#141414" stroke="#141414" stroke-width="0.15" textLength="12.3" lengthAdjust="spacingAndGlyphs" >Cab</text>
<text x="689.7" y="341.2" font-size="13.6" fill="#141414" stroke="#141414" stroke-width="0.4" textLength="31.1" lengthAdjust="spacingAndGlyphs" >Nook</text>
<text x="683" y="357" font-size="9.6" fill="#141414" stroke="#141414" stroke-width="0.5" textLength="45.8" lengthAdjust="spacingAndGlyphs" >12'6"x8'11"</text>
<text x="687.5" y="369.8" font-size="10" fill="#141414" stroke="#141414" stroke-width="0.5" textLength="35.3" lengthAdjust="spacingAndGlyphs" >(Carpet)</text>
<text x="607.2" y="380.2" font-size="10" fill="#141414" stroke="#141414" stroke-width="0.5" textLength="23.6" lengthAdjust="spacingAndGlyphs" >(LVP)</text>
<text x="820.8" y="356.3" font-size="13.6" fill="#141414" stroke="#141414" stroke-width="0.4" textLength="76.5" lengthAdjust="spacingAndGlyphs" >Living Room</text>
<text x="836" y="372.7" font-size="9.6" fill="#141414" stroke="#141414" stroke-width="0.5" textLength="45.7" lengthAdjust="spacingAndGlyphs" >19'9"x12'6"</text>
<text x="839.3" y="385" font-size="10" fill="#141414" stroke="#141414" stroke-width="0.5" textLength="35.7" lengthAdjust="spacingAndGlyphs" >(Carpet)</text>
<text x="934.5" y="398.6" font-size="10" fill="#141414" stroke="#141414" stroke-width="0.5" textLength="40.1" lengthAdjust="spacingAndGlyphs" >(LamWd)</text>
<text x="1021.6" y="356" font-size="13.6" fill="#141414" stroke="#141414" stroke-width="0.4" textLength="55.5" lengthAdjust="spacingAndGlyphs" >Bedroom</text>
<text x="1022.2" y="369.7" font-size="9.6" fill="#141414" stroke="#141414" stroke-width="0.5" textLength="51.2" lengthAdjust="spacingAndGlyphs" >13'4"x12'10"</text>
<text x="1030.6" y="383.8" font-size="10" fill="#141414" stroke="#141414" stroke-width="0.5" textLength="34.7" lengthAdjust="spacingAndGlyphs" >(Carpet)</text>
<text x="1124.7" y="370.2" font-size="9.4" font-weight="700" fill="#141414" stroke="#141414" stroke-width="0.15" textLength="19.3" lengthAdjust="spacingAndGlyphs" >WIC</text>
<text x="961.2" y="505" font-size="13.6" fill="#141414" stroke="#141414" stroke-width="0.4" textLength="31.3" lengthAdjust="spacingAndGlyphs" >Deck</text>
<text x="962.5" y="517.5" font-size="9.6" fill="#141414" stroke="#141414" stroke-width="0.5" textLength="28.7" lengthAdjust="spacingAndGlyphs" >36'x14'</text>
<text x="447.2" y="730.8" font-size="13.6" fill="#141414" stroke="#141414" stroke-width="0.4" textLength="32.0" lengthAdjust="spacingAndGlyphs" >Unfin</text>
<text x="447.2" y="745.8" font-size="13.6" fill="#141414" stroke="#141414" stroke-width="0.4" textLength="33.0" lengthAdjust="spacingAndGlyphs" >Mech</text>
<text x="453.7" y="760" font-size="9.6" fill="#141414" stroke="#141414" stroke-width="0.5" textLength="21.0" lengthAdjust="spacingAndGlyphs" >5'x5'</text>
<text x="539.8" y="802.5" font-size="13.6" fill="#141414" stroke="#141414" stroke-width="0.4" textLength="80.4" lengthAdjust="spacingAndGlyphs" >Family Room</text>
<text x="549.2" y="820" font-size="9.6" fill="#141414" stroke="#141414" stroke-width="0.5" textLength="57.8" lengthAdjust="spacingAndGlyphs" >29'11"x25'11"</text>
<text x="557.5" y="835.8" font-size="10" fill="#141414" stroke="#141414" stroke-width="0.5" textLength="35.3" lengthAdjust="spacingAndGlyphs" >(Carpet)</text>
<text x="738" y="807.2" font-size="6.4" font-weight="700" fill="#141414" stroke="#141414" stroke-width="0.15" textLength="12.8" lengthAdjust="spacingAndGlyphs" >Mini</text>
<text x="738.3" y="817.8" font-size="6.4" font-weight="700" fill="#141414" stroke="#141414" stroke-width="0.15" textLength="12.2" lengthAdjust="spacingAndGlyphs" >Frig</text>
<text x="875" y="772.9" font-size="13.6" fill="#141414" stroke="#141414" stroke-width="0.4" textLength="157.5" lengthAdjust="spacingAndGlyphs" >Unfinished Storage Room</text>
<text x="929.6" y="791.5" font-size="9.6" fill="#141414" stroke="#141414" stroke-width="0.5" textLength="45.9" lengthAdjust="spacingAndGlyphs" >13'3"x40'6"</text>
<text x="875.6" y="837.1" font-size="9.6" fill="#111" stroke="#111" stroke-width="0.45" textLength="34.8" lengthAdjust="spacingAndGlyphs" >Furnace</text>
<text x="816" y="897" font-size="13.6" fill="#141414" stroke="#141414" stroke-width="0.4" textLength="57" lengthAdjust="spacingAndGlyphs" >Mudroom</text>
<text x="821.2" y="913.5" font-size="9.6" fill="#141414" stroke="#141414" stroke-width="0.5" textLength="45.8" lengthAdjust="spacingAndGlyphs" >11'10"x9'5"</text>
<text x="823.5" y="927" font-size="10" fill="#141414" stroke="#141414" stroke-width="0.5" textLength="40.5" lengthAdjust="spacingAndGlyphs" >(LamWd)</text>
<text x="807.7" y="972.8" font-size="8.6" font-weight="700" fill="#141414" stroke="#141414" stroke-width="0.15" textLength="12.1" lengthAdjust="spacingAndGlyphs" >CL</text>
<text x="960.2" y="901.9" font-size="13.6" fill="#141414" stroke="#141414" stroke-width="0.4" textLength="55.2" lengthAdjust="spacingAndGlyphs" >Bedroom</text>
<text x="963.4" y="916.9" font-size="9.6" fill="#141414" stroke="#141414" stroke-width="0.5" textLength="46.0" lengthAdjust="spacingAndGlyphs" >16'2"x12'4"</text>
<text x="967.7" y="930.6" font-size="10" fill="#141414" stroke="#141414" stroke-width="0.5" textLength="35.1" lengthAdjust="spacingAndGlyphs" >(Carpet)</text>
<text x="1105" y="883.1" font-size="9.4" font-weight="700" fill="#141414" stroke="#141414" stroke-width="0.15" textLength="19.1" lengthAdjust="spacingAndGlyphs" >WIC</text>
<text x="1097.5" y="963.8" font-size="10" fill="#141414" stroke="#141414" stroke-width="0.5" textLength="24.4" lengthAdjust="spacingAndGlyphs" >(LVP)</text>
<text x="956" y="1045.3" font-size="13.6" fill="#141414" stroke="#141414" stroke-width="0.4" textLength="46.2" lengthAdjust="spacingAndGlyphs" >Carport</text>
<text x="965.6" y="1062.3" font-size="9.6" fill="#141414" stroke="#141414" stroke-width="0.5" textLength="27.5" lengthAdjust="spacingAndGlyphs" >36'x14'</text>
<text x="947.2" y="1076.9" font-size="10" fill="#141414" stroke="#141414" stroke-width="0.5" textLength="57.8" lengthAdjust="spacingAndGlyphs" >(Under Deck)</text>
<text x="695.8" y="1175.6" font-size="10" fill="#2a2a2a" stroke="#2a2a2a" stroke-width="0.25" textLength="207.7" lengthAdjust="spacingAndGlyphs" >© iLOOKABOUT (US) Inc. dba Apex Software</text>
<text x="1176" y="1175.2" font-size="9.4" font-weight="700" fill="#2a2a2a" textLength="30.2" lengthAdjust="spacingAndGlyphs" >Page 1</text>
<text x="1441" y="1190.5" font-size="27.6" fill="#9b9b9b" textLength="148" lengthAdjust="spacingAndGlyphs" >REcolorado</text>
</g>

<!-- watermark -->
<g filter="url(#wmsh)">
  <circle cx="996.2" cy="1141.8" r="36.2" fill="none" stroke="#fff" stroke-opacity="0.88" stroke-width="4.6"/>
  <circle cx="996.2" cy="1141.8" r="32.4" fill="#d2d2d2" fill-opacity="0.74"/>
  <path d="M966.5,1153 A32.4,32.4 0 0 0 1025.9,1153 A38,38 0 0 1 966.5,1153 Z" fill="#e2e2e2" fill-opacity="0.75"/>
  <path d="M977.8,1135.2 L990,1122.8 L1018.7,1136.4 L1018.7,1150.6 L1012.8,1152.6 L1012.8,1146.4 L1006.6,1148.2 L1006.6,1154.6 L995.2,1158.4 L995.2,1142 L1005,1129.6 M977.8,1135.2 L977.8,1151.4 L983,1153.6 L983,1147 L988.4,1149 L988.4,1155.8 L995.2,1158.4"
        fill="none" stroke="#fff" stroke-width="3" stroke-linejoin="round" stroke-linecap="round"/>
  <text x="1041.2" y="1142.3" font-size="41" font-weight="700" fill="#fff" fill-opacity="0.9" textLength="111" lengthAdjust="spacingAndGlyphs">IRES</text>
  <rect x="1041" y="1145.8" width="190" height="1.9" fill="#fff"/>
  <text x="1041.2" y="1168.2" font-size="20" font-weight="700" fill="#fff" fill-opacity="0.93" textLength="182.4" lengthAdjust="spacingAndGlyphs">ColoProperty.com</text>
  <circle cx="1030.6" cy="1110.4" r="2.3" fill="none" stroke="#fff" stroke-width="0.9"/>
  <circle cx="1227.5" cy="1156" r="2" fill="none" stroke="#fff" stroke-width="0.8"/>
  <g transform="translate(1252.4,1175.6) rotate(-90)"><text x="0" y="0" font-size="18" font-weight="700" fill="#fff" textLength="70.5" lengthAdjust="spacingAndGlyphs">© IRES</text></g>
</g>
<g fill="none" stroke="#fff" stroke-width="2" stroke-linecap="round" stroke-linejoin="round" filter="url(#wmsh2)">
  <path d="M1161,1141 L1174,1116 L1172,1137 L1186,1113 L1184,1139 L1191,1128"/>
  <path d="M1193,1140 Q1205,1122 1209,1108 Q1201,1124 1200,1141"/>
  <path d="M1229,1112 Q1213,1115 1215,1123 Q1227,1130 1221,1138 Q1213,1142 1207,1137"/>
</g>

</svg>
</body></html>
